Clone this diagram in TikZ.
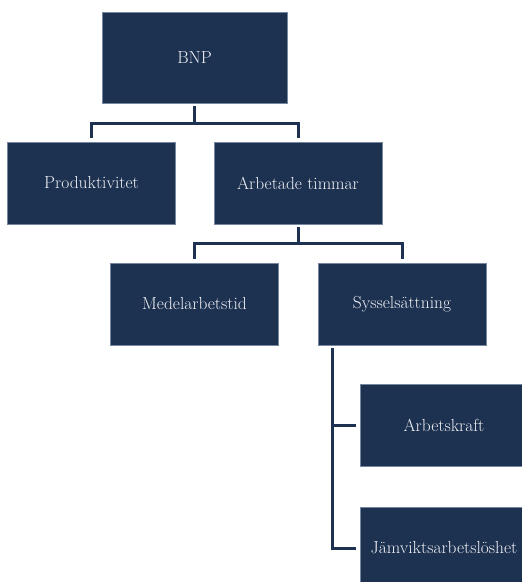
\documentclass[tikz,border=0pt]{standalone}
\usetikzlibrary{positioning}
\definecolor{navy}{RGB}{29,49,81}
\definecolor{boxedge}{RGB}{120,135,160}
\definecolor{boxtext}{RGB}{242,242,245}
\begin{document}
\begin{tikzpicture}[x=1bp,y=-1bp,
  box/.style={fill=navy,draw=boxedge,line width=0.6bp,text=boxtext,
    minimum width=168bp,minimum height=82bp,inner sep=0pt,
    font=\fontsize{17.5}{20}\selectfont},
  link/.style={draw=navy,line width=3bp,shorten <=3bp,shorten >=4bp}]
\clip (0,0) rectangle (522,582);

\node[box,minimum width=185bp,minimum height=91bp] (bnp) at (194.5,57.5) {BNP};
\node[box] (prod) at (91.5,183) {Produktivitet};
\node[box] (arb) at (298,183) {Arbetade timmar};
\node[box] (medel) at (194.5,304) {Medelarbetstid};
\node[box] (syss) at (402,304) {Sysselsättning};
\node[box] (kraft) at (444,425.5) {Arbetskraft};
\node[box] (jamv) at (444,548) {Jämviktsarbetslöshet};

\draw[link] (bnp.south) -- ++(0,20) -| (prod.north);
\draw[link] (bnp.south) -- ++(0,20) -| (arb.north);

\draw[link] (arb.south) -- ++(0,19) -| (medel.north);
\draw[link] (arb.south) -- ++(0,19) -| (syss.north);

\draw[link] ([xshift=15bp]syss.south west) |- (kraft.west);
\draw[link] ([xshift=15bp]syss.south west) |- (jamv.west);
\end{tikzpicture}
\end{document}
